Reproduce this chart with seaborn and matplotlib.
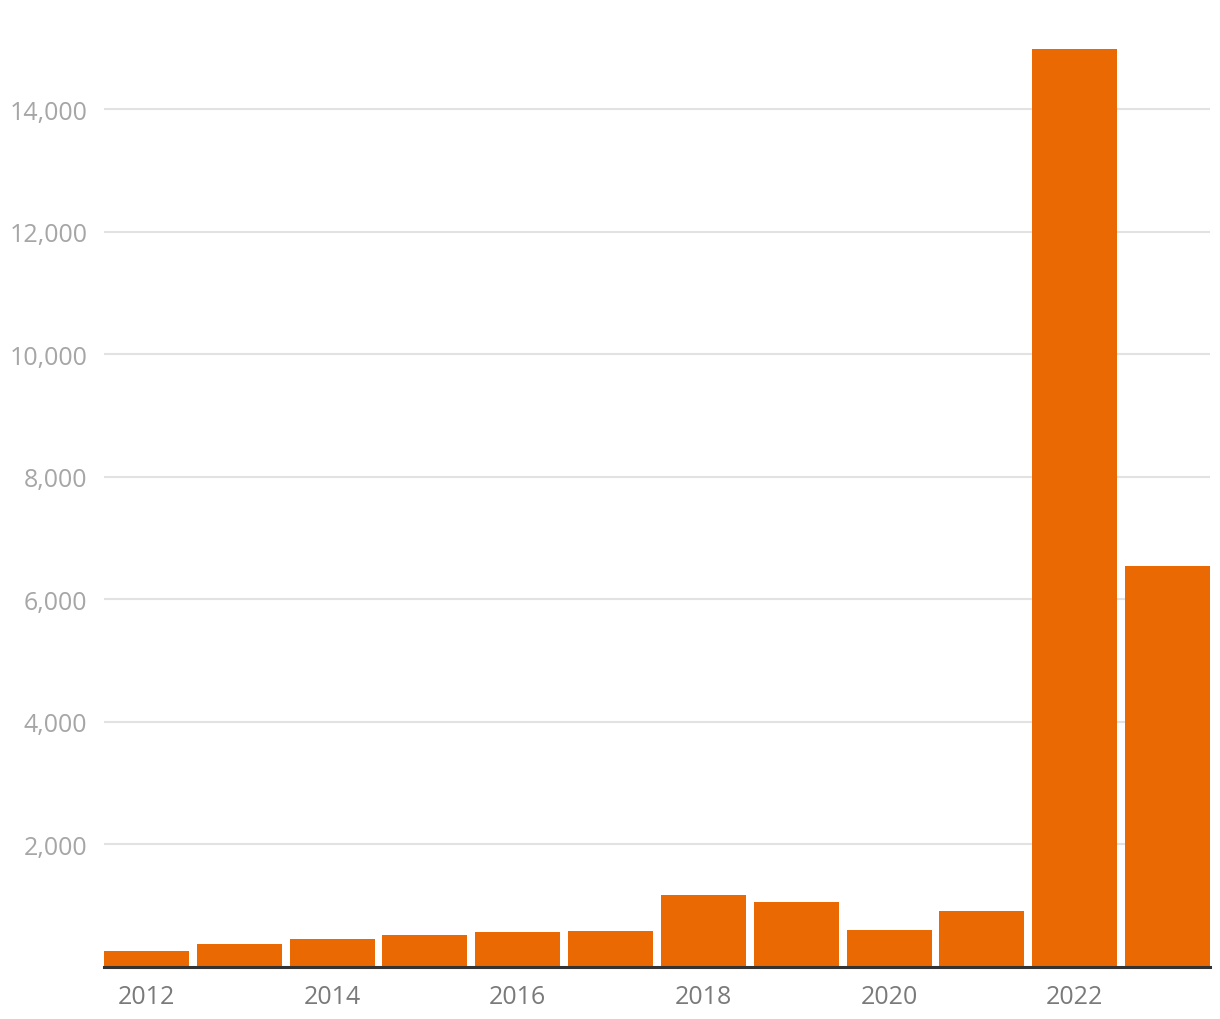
import matplotlib
matplotlib.use("Agg")
import matplotlib.pyplot as plt
import pandas as pd
import seaborn as sns
from matplotlib.ticker import FuncFormatter

# data
years = [2012, 2013, 2014, 2015, 2016, 2017, 2018, 2019, 2020, 2021, 2022, 2023]
values = [260, 375, 455, 520, 570, 585, 1175, 1060, 605, 915, 14980, 6540]

df = pd.DataFrame({"year": [str(y) for y in years], "value": values})

sns.set_theme(style="white")
plt.rcParams["font.family"] = ["Open Sans", "DejaVu Sans"]

bar_w = 0.915

fig = plt.figure(figsize=(12.2, 10.2), dpi=100)
ax = fig.add_axes([0.0852, 0.051, 0.9066, 0.901])

sns.barplot(data=df, x="year", y="value", color="#ea6903", saturation=1,
            width=bar_w, linewidth=0, ax=ax, zorder=2)

# bars touch the axis edges
ax.set_xlim(-bar_w / 2, len(years) - 1 + bar_w / 2)
ax.set_ylim(0, 15000)
ax.set_yticks(range(2000, 15000, 2000))
ax.yaxis.set_major_formatter(FuncFormatter(lambda v, p: f"{int(v):,}"))
ax.set_xticks(range(0, len(years), 2))
ax.set_xticklabels([str(y) for y in years[::2]])

ax.grid(axis="y", color="#e2e2e2", linewidth=1.5, zorder=0)
ax.grid(axis="x", visible=False)
ax.set_axisbelow(True)

for side in ["top", "right", "left"]:
    ax.spines[side].set_visible(False)
ax.spines["bottom"].set_color("#333333")
ax.spines["bottom"].set_linewidth(2.2)
ax.spines["bottom"].set_zorder(3)

ax.tick_params(axis="y", length=0, pad=12, labelsize=18, labelcolor="#a6a6a6")
ax.tick_params(axis="x", length=0, pad=12, labelsize=18, labelcolor="#7a7a7a")
ax.set_xlabel("")
ax.set_ylabel("")

fig.savefig("out.png", dpi=100, facecolor="white")
